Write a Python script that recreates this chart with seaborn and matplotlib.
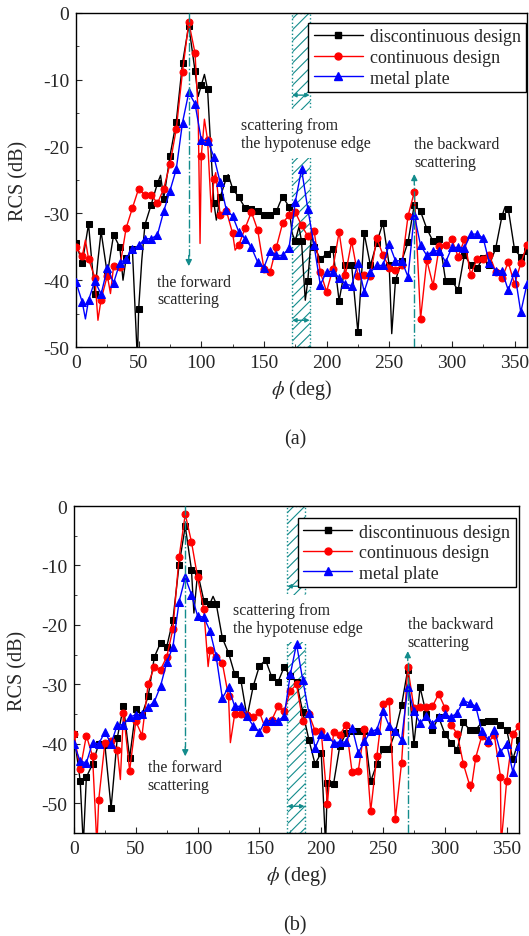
import numpy as np
import pandas as pd
import matplotlib
matplotlib.use("Agg")
import matplotlib.pyplot as plt
from matplotlib.lines import Line2D
import seaborn as sns

sns.set_style("ticks")
plt.rcParams["font.family"] = ["Liberation Serif", "DejaVu Serif"]
plt.rcParams["mathtext.fontset"] = "stix"
plt.rcParams["axes.unicode_minus"] = False
plt.rcParams["hatch.linewidth"] = 0.8

# angle grid where the markers sit (deg)
phi = np.arange(0, 361, 5)

# ---------- (a) ----------
a_disc = [-34.5, -37.4, -31.6, -42.1, -32.7, -39.1, -33.2, -35.1, -36.7, -35.4,
          -44.3, -31.7, -28.7, -25.5, -27.8, -21.4, -16.3, -7.5, -1.9, -8.7,
          -10.8, -11.4, -28.4, -27.6, -24.7, -26.3, -27.6, -29.2, -29.3, -29.6,
          -30.2, -30.3, -29.7, -27.5, -29.0, -34.1, -34.2, -40.1, -35.0, -36.8,
          -36.1, -35.3, -43.1, -37.8, -37.8, -47.8, -33.0, -37.8, -34.4, -31.4,
          -37.8, -40.0, -37.1, -34.3, -28.7, -29.7, -32.3, -34.2, -33.8, -40.1,
          -40.1, -41.5, -36.2, -37.7, -38.2, -36.7, -37.7, -35.2, -30.4, -29.3,
          -35.4, -36.5, -35.7]
a_disc_xx = [12.5, 17.5, 37.5, 49, 52.5, 67.5, 97.5, 102.5, 107.5, 112, 121.5,
             162.5, 172.5, 178, 183, 188, 252, 342.5]
a_disc_yx = [-37, -37, -40, -52, -37, -24.3, -12.5, -9.2, -20, -31, -24.2,
             -28.5, -33, -32, -43, -33, -48, -29.0]

a_cont = [-35.1, -36.4, -36.8, -39.6, -42.9, -39.3, -37.9, -38.0, -32.2, -29.2,
          -26.3, -27.3, -27.2, -28.5, -26.3, -22.6, -17.4, -8.8, -1.4, -6.0,
          -21.4, -19.0, -24.9, -30.2, -29.6, -33.0, -34.7, -32.2, -29.8, -32.5,
          -38.3, -38.7, -35.0, -31.4, -30.3, -29.8, -31.8, -33.4, -32.6, -38.8,
          -41.7, -38.3, -32.8, -39.2, -34.2, -39.3, -39.2, -39.4, -33.7, -36.2,
          -38.1, -38.4, -37.8, -30.4, -26.8, -45.8, -37.0, -40.8, -34.9, -34.8,
          -33.9, -36.5, -33.9, -39.2, -36.9, -36.9, -36.3, -38.7, -39.7, -37.3,
          -40.6, -37.5, -34.7]
a_cont_xx = [7.5, 17.5, 27.5, 97.5, 99, 102.5, 108, 111.5, 127, 272.5]
a_cont_yx = [-34, -46, -42, -15, -34.5, -15.9, -29.8, -23.9, -35.5, -36]

a_metal = [-40.3, -43.3, -43.0, -40.1, -42.1, -38.2, -40.4, -37.4, -36.8, -35.4,
           -34.8, -33.8, -33.8, -33.2, -29.7, -26.6, -23.4, -16.4, -11.9, -13.6,
           -19.0, -19.1, -21.5, -25.3, -29.5, -30.4, -32.8, -33.8, -35.1, -37.3,
           -38.1, -35.6, -36.3, -36.3, -35.2, -28.3, -23.4, -29.3, -34.8, -40.7,
           -38.7, -38.7, -39.7, -40.6, -40.8, -37.5, -41.7, -38.8, -37.8, -37.8,
           -34.6, -37.1, -37.1, -39.5, -30.2, -34.8, -36.3, -35.6, -35.6, -37.3,
           -35.1, -35.1, -35.2, -33.1, -33.1, -33.7, -37.5, -38.6, -38.6, -41.5,
           -38.7, -44.8, -40.5]
a_metal_xx = [7.5]
a_metal_yx = [-45.8]

# ---------- (b) ----------
b_disc = [-38.4, -46.2, -45.6, -43.4, -40.0, -40.2, -50.8, -39.0, -33.7, -42.4,
          -34.2, -35.1, -32.0, -25.4, -23.0, -23.7, -19.2, -9.9, -3.4, -10.7,
          -11.2, -15.9, -16.4, -16.4, -22.2, -24.7, -28.3, -29.3, -35.5, -30.3,
          -26.9, -25.9, -28.8, -29.6, -27.1, -28.6, -29.6, -34.6, -39.3, -43.4,
          -41.5, -46.6, -46.7, -40.4, -38.2, -37.8, -37.8, -37.8, -46.3, -43.4,
          -40.8, -40.8, -38.0, -33.5, -27.5, -40.0, -30.5, -35.0, -37.6, -35.5,
          -38.3, -39.8, -41.0, -36.4, -37.6, -37.6, -36.4, -36.2, -36.2, -36.9,
          -37.6, -42.6, -39.3]
b_disc_xx = [7.5, 97, 112.5, 203.5]
b_disc_yx = [-57, -18, -15.2, -57]

b_cont = [-38.4, -44.3, -38.6, -42.1, -49.4, -39.8, -39.5, -41.0, -34.8, -44.5,
          -36.2, -38.6, -29.9, -27.1, -27.5, -25.4, -20.7, -8.6, -1.4, -6.0,
          -12.0, -17.4, -24.3, -25.4, -26.4, -32.0, -35.0, -35.0, -35.1, -35.5,
          -34.7, -37.5, -36.0, -33.7, -34.5, -31.1, -30.0, -36.1, -35.0, -37.8,
          -37.9, -50.1, -38.0, -38.5, -36.8, -44.8, -44.5, -37.5, -51.3, -42.1,
          -33.3, -32.8, -52.6, -43.2, -27.1, -34.0, -33.8, -33.8, -33.7, -31.6,
          -33.9, -36.8, -38.3, -43.4, -46.9, -42.3, -38.6, -39.8, -38.5, -45.5,
          -46.3, -38.4, -37.0]
b_cont_xx = [18.5, 37.5, 108.5, 126.5, 321, 345.5]
b_cont_yx = [-57, -46, -27, -39.8, -48, -57]

b_metal = [-40.1, -42.9, -43.2, -39.8, -40.0, -38.0, -40.0, -36.8, -36.8, -35.5,
           -35.1, -35.0, -33.8, -32.9, -30.3, -26.3, -23.7, -16.1, -12.0, -14.9,
           -18.5, -18.7, -21.0, -25.3, -32.3, -30.5, -33.7, -33.7, -35.4, -37.0,
           -38.0, -36.1, -36.1, -36.1, -35.4, -28.3, -23.2, -29.2, -34.8, -40.7,
           -38.3, -38.7, -39.8, -39.7, -39.7, -37.3, -41.5, -39.6, -37.9, -37.6,
           -34.5, -37.0, -37.9, -39.3, -30.5, -34.5, -36.5, -35.4, -36.6, -35.5,
           -35.0, -35.5, -34.8, -32.8, -33.1, -33.7, -37.9, -39.3, -37.6, -41.4,
           -40.0, -44.7, -40.4]
b_metal_xx = []
b_metal_yx = []

labels = ["discontinuous design", "continuous design", "metal plate"]
colors = ["black", "#ff0000", "#0000ff"]
markers = ["s", "o", "^"]
msizes = [4.5, 5, 5.5]
teal = "#138c8c"


def series(base, xx, yx):
    df = pd.DataFrame({"phi": np.concatenate([phi, xx]),
                       "rcs": np.concatenate([base, yx])})
    df = df.sort_values("phi").reset_index(drop=True)
    return df


fig = plt.figure(figsize=(5.29, 9.37), dpi=100)
ax_a = fig.add_axes([0.1437, 0.6286, 0.8526, 0.3565])
ax_b = fig.add_axes([0.1399, 0.1099, 0.8412, 0.349])

panels = [
    (ax_a, [(a_disc, a_disc_xx, a_disc_yx), (a_cont, a_cont_xx, a_cont_yx),
            (a_metal, a_metal_xx, a_metal_yx)],
     -50, dict(fwd=(65, -39, -37.9), hyp=(132, -15.6), bwd=(-24.1, -18.4),
               arr=(-12.3, -46), leg=(0.998, 0.970), ylab=-0.106)),
    (ax_b, [(b_disc, b_disc_xx, b_disc_yx), (b_cont, b_cont_xx, b_cont_yx),
            (b_metal, b_metal_xx, b_metal_yx)],
     -55, dict(fwd=(59.7, -42.6, -42.1), hyp=(128.4, -16.1), bwd=(-24.4, -18.5),
               arr=(-13.5, -50.5), leg=(0.993, 0.963), ylab=-0.104)),
]

for ax, data, ymin, ann in panels:
    # hatched region of the hypotenuse edge scattering
    ax.axvspan(172.5, 186.5, facecolor="none", edgecolor=teal, hatch="///",
               linestyle=":", linewidth=1, zorder=1)
    for yy in ann["arr"]:
        ax.annotate("", xy=(172.5, yy), xytext=(186.5, yy),
                    arrowprops=dict(arrowstyle="<|-|>", color=teal, lw=1,
                                    mutation_scale=6, shrinkA=0, shrinkB=0),
                    zorder=4)

    for (base, xx, yx), lab, c, m, ms in zip(data, labels, colors, markers, msizes):
        df = series(base, xx, yx)
        mask = list((df["phi"] % 5 == 0).values)
        sns.lineplot(data=df, x="phi", y="rcs", ax=ax, color=c, lw=1,
                     marker=m, markersize=ms, markeredgecolor=c, markevery=mask,
                     sort=False, errorbar=None, zorder=3)

    # forward scattering
    fx, fy, ftip = ann["fwd"]
    ax.plot([90, 90], [0, ftip + 1.5], ls="-.", color=teal, lw=1, zorder=4)
    ax.annotate("", xy=(90, ftip), xytext=(90, ftip + 1.6),
                arrowprops=dict(arrowstyle="-|>", color=teal, lw=1,
                                mutation_scale=9, shrinkA=0, shrinkB=0))
    ax.text(fx, fy, "the forward\nscattering", ha="left", va="top",
            fontsize=11.5, linespacing=1.15, zorder=5)

    # backward scattering
    btip, btext = ann["bwd"]
    ax.plot([270, 270], [ymin, btip - 1.5], ls="-.", color=teal, lw=1, zorder=4)
    ax.annotate("", xy=(270, btip), xytext=(270, btip - 1.6),
                arrowprops=dict(arrowstyle="-|>", color=teal, lw=1,
                                mutation_scale=9, shrinkA=0, shrinkB=0))
    ax.text(270, btext, "the backward\nscattering", ha="left", va="top",
            fontsize=11.5, linespacing=1.15, zorder=5)

    hx, hy = ann["hyp"]
    ax.text(hx, hy, "scattering from\nthe hypotenuse edge", ha="left", va="top",
            fontsize=11.5, linespacing=1.15, zorder=2,
            bbox=dict(facecolor="white", edgecolor="none", pad=5))

    ax.set_xlim(0, 360)
    ax.set_ylim(ymin, 0)
    ax.set_xticks(np.arange(0, 361, 50))
    ax.set_xticks(np.arange(0, 361, 25), minor=True)
    ax.set_yticks(np.arange(ymin if ymin % 10 == 0 else ymin + 5, 1, 10))
    ax.set_yticks(np.arange(ymin, 1, 5), minor=True)
    ax.tick_params(axis="both", which="both", direction="in", labelsize=14,
                   pad=5)
    ax.tick_params(which="major", length=4.5)
    ax.tick_params(which="minor", length=2.5)
    ax.set_xlabel(r"$\phi$ (deg)", fontsize=14.5, labelpad=4)
    ax.set_ylabel("RCS (dB)", fontsize=14.5)
    ax.yaxis.set_label_coords(ann["ylab"], 0.5)
    for s in ax.spines.values():
        s.set_visible(True)
        s.set_linewidth(1)
        s.set_color("black")

    handles = [Line2D([], [], color=c, lw=1, marker=m, markersize=ms)
               for c, m, ms in zip(colors, markers, msizes)]
    leg = ax.legend(handles, labels, loc="upper right",
                    bbox_to_anchor=ann["leg"], fontsize=13, frameon=True,
                    fancybox=False, framealpha=1, edgecolor="black",
                    handlelength=2.7, handletextpad=0.4, labelspacing=0.2,
                    borderpad=0.3, borderaxespad=0)
    leg.get_frame().set_linewidth(1)
    leg.set_zorder(10)

fig.text(295 / 529, 1 - 440 / 937, "(a)", ha="center", va="center", fontsize=14.5)
fig.text(295 / 529, 1 - 926 / 937, "(b)", ha="center", va="center", fontsize=14.5)

fig.savefig("out.png", dpi=100)
